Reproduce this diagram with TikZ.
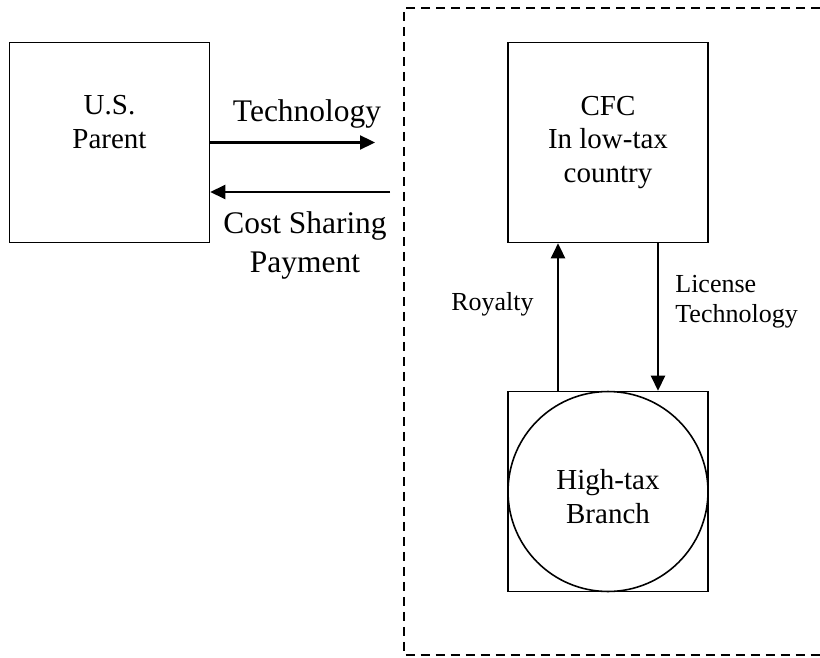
\documentclass[tikz,border=0pt]{standalone}
\usepackage{fontspec}
\setmainfont{Liberation Serif}
\usetikzlibrary{arrows.meta}
\begin{document}
\begin{tikzpicture}[x=0.02cm, y=-0.02cm]
  \useasboundingbox (0,0) rectangle (820,658);
  % entity boxes
  \begin{scope}[every node/.style={draw=black, line width=0.9pt, minimum size=4cm, inner sep=0pt}]
    \node (parent) at (109.5,142.5) {};
    \node[align=center, font=\fontsize{16.5}{19.3}\selectfont] (cfc) at (608,142.5) {CFC\\In low-tax\\country};
    \node (branchbox) at (608,491.5) {};
    \node[circle] (branch) at (608,491.5) {};
  \end{scope}
  \begin{scope}[every node/.style={align=center, inner sep=0pt, font=\fontsize{16.5}{19.3}\selectfont}]
    \node (parenttext) at (109.5,122) {U.S.\\Parent};
    \node (branchtext) at (608,497) {High-tax\\Branch};
  \end{scope}
  % flows
  \coordinate (techend) at (375,142.5);
  \coordinate (paystart) at (390,192);
  \begin{scope}[every edge/.style={draw=black, line width=1.3pt, -{Triangle[length=0.3cm, width=0.28cm]}}]
    \path (parent.east) edge (techend);
    \path (paystart) edge (paystart -| parent.east);
    \path ([xshift=-1cm]branchbox.north) edge ([xshift=-1cm]cfc.south);
    \path ([xshift=1cm]cfc.south) edge ([xshift=1cm]branchbox.north);
  \end{scope}
  \node[anchor=base, font=\fontsize{17.9}{22.2}\selectfont] (techlabel) at (307,122) {Technology};
  \node[align=center, inner sep=0pt, font=\fontsize{17.9}{22.2}\selectfont] (paylabel) at (305,245) {Cost Sharing\\Payment};
  \node[anchor=base, font=\fontsize{14.8}{17.6}\selectfont] (royaltylabel) at (492.5,310) {Royalty};
  \node[anchor=west, align=left, inner sep=0pt, font=\fontsize{14.8}{17.6}\selectfont] (licenselabel) at (675,301.7) {License\\Technology};
  % foreign group border
  \draw[line width=1.1pt, dash pattern=on 0.18cm off 0.12cm] (820,8) -- (404,8) -- (404,655) -- (820,655);
\end{tikzpicture}
\end{document}
